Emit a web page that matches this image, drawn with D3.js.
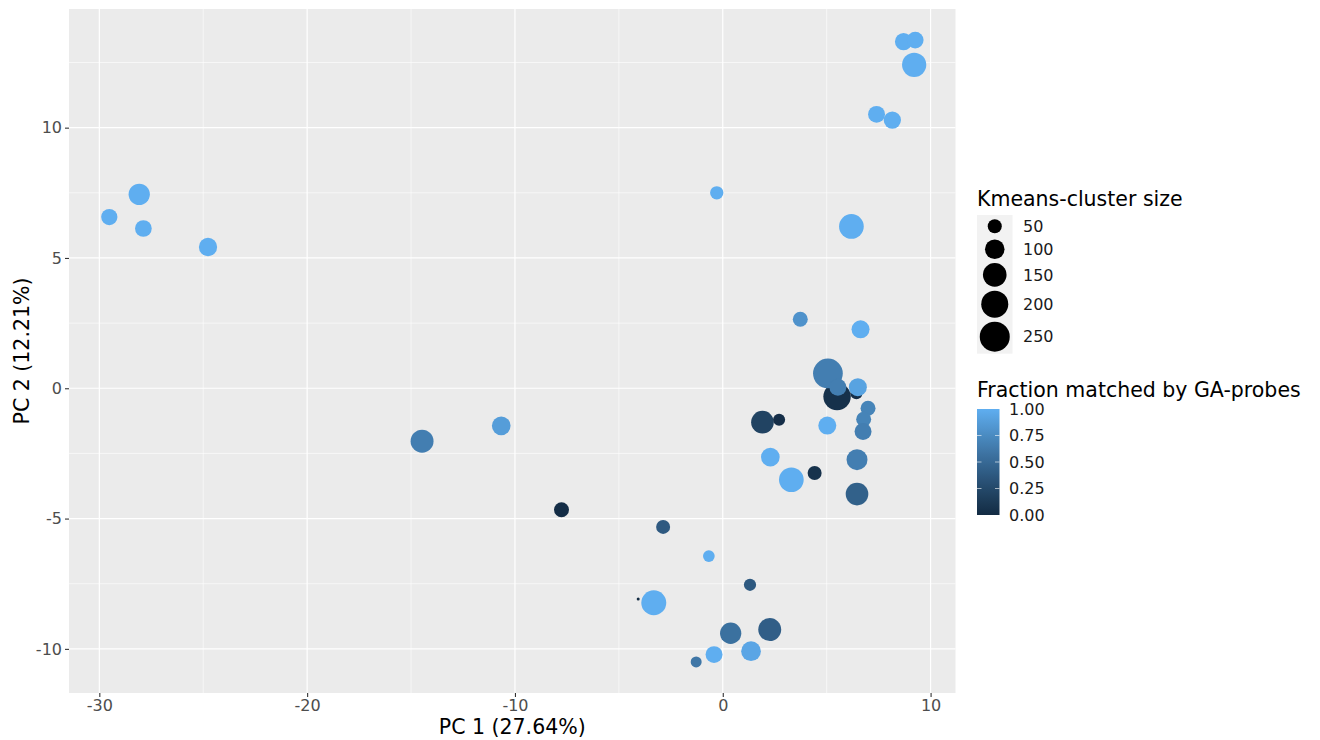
<!DOCTYPE html>
<html lang="en">
<head>
<meta charset="utf-8">
<title>PCA of k-means clusters</title>
<script src="https://cdn.jsdelivr.net/npm/d3@7"></script>
<style>
  body { margin: 0; background: #fff; }
  text { font-family: "DejaVu Sans", sans-serif; }
</style>
</head>
<body>
<script>
// one entry per k-means cluster, in draw order
var pc1 = [-29.52, -28.08, -27.88, -24.77, -14.47, -10.66, -7.76, -2.87, -4.07, -3.32,
           -0.67, 1.31, 0.38, 2.26, -0.42, 1.36, -1.28, -0.29, 3.73, 6.19,
           6.63, 5.50, 5.06, 5.54, 6.43, 6.50, 6.99, 6.78, 6.75, 5.03,
           1.91, 2.71, 2.29, 3.30, 4.42, 6.46, 6.46, 8.70, 9.26, 9.21,
           7.40, 8.16];
var pc2 = [6.57, 7.44, 6.13, 5.42, -2.03, -1.44, -4.66, -5.32, -8.09, -8.23,
           -6.44, -7.54, -9.40, -9.26, -10.22, -10.09, -10.50, 7.50, 2.65, 6.21,
           2.26, -0.32, 0.57, 0.04, -0.19, 0.04, -0.77, -1.19, -1.66, -1.43,
           -1.30, -1.21, -2.64, -3.51, -3.25, -2.74, -4.06, 13.30, 13.36, 12.41,
           10.51, 10.29];
var clusterSize = [68, 120, 72, 87, 141, 91, 57, 50, 10, 169,
                   35, 38, 120, 141, 74, 102, 31, 45, 57, 165,
                   84, 207, 245, 74, 37, 84, 57, 57, 74, 84,
                   137, 37, 91, 165, 50, 116, 137, 77, 72, 159,
                   74, 77];
var fracMatched = [1.0, 1.0, 1.0, 1.0, 0.66, 0.88, 0.02, 0.38, 0.0, 1.0,
                   1.0, 0.38, 0.56, 0.42, 1.0, 0.94, 0.6, 1.0, 0.8, 1.0,
                   1.0, 0.05, 0.66, 0.66, 0.03, 0.92, 0.7, 0.7, 0.66, 1.0,
                   0.2, 0.03, 1.0, 1.0, 0.06, 0.66, 0.44, 1.0, 1.0, 1.0,
                   1.0, 1.0];

var xTicks = [-30, -20, -10, 0, 10];
var yTicks = [-10, -5, 0, 5, 10];
var sizeBreaks = [50, 100, 150, 200, 250];
var fracBreaks = [0, 0.25, 0.5, 0.75, 1];

var W = 1320, H = 740;
var panel = {left: 69, top: 9, right: 955.5, bottom: 693};

function expand(ext) {
  var d = (ext[1] - ext[0]) * 0.05;
  return [ext[0] - d, ext[1] + d];
}

var x = d3.scaleLinear().domain(expand(d3.extent(pc1))).range([panel.left, panel.right]);
var y = d3.scaleLinear().domain(expand(d3.extent(pc2))).range([panel.bottom, panel.top]);
var sizeMin = 10;
var r = d3.scaleSqrt().domain([0, 240]).range([1.5, 15]);
var color = d3.scaleLinear().domain([0, 1]).range(["#132B43", "#5FAEF0"]).interpolate(d3.interpolateLab);

var svg = d3.select("body").append("svg")
    .attr("width", W)
    .attr("height", H);

// panel background + grid
svg.append("rect")
    .attr("x", panel.left).attr("y", panel.top)
    .attr("width", panel.right - panel.left)
    .attr("height", panel.bottom - panel.top)
    .attr("fill", "#EBEBEB");

function minors(major, dom) {
  var step = major[1] - major[0], out = [];
  for (var v = major[0] - step / 2; v <= major[major.length - 1] + step / 2; v += step) {
    if (v >= dom[0] && v <= dom[1]) out.push(v);
  }
  return out;
}

var grid = svg.append("g");
grid.selectAll(".xminor").data(minors(xTicks, x.domain())).enter().append("line")
    .attr("x1", d => x(d)).attr("x2", d => x(d))
    .attr("y1", panel.top).attr("y2", panel.bottom)
    .attr("stroke", "#fff").attr("stroke-width", 0.6);
grid.selectAll(".yminor").data(minors(yTicks, y.domain())).enter().append("line")
    .attr("y1", d => y(d)).attr("y2", d => y(d))
    .attr("x1", panel.left).attr("x2", panel.right)
    .attr("stroke", "#fff").attr("stroke-width", 0.6);
grid.selectAll(".xmajor").data(xTicks).enter().append("line")
    .attr("x1", d => x(d)).attr("x2", d => x(d))
    .attr("y1", panel.top).attr("y2", panel.bottom)
    .attr("stroke", "#fff").attr("stroke-width", 1.2);
grid.selectAll(".ymajor").data(yTicks).enter().append("line")
    .attr("y1", d => y(d)).attr("y2", d => y(d))
    .attr("x1", panel.left).attr("x2", panel.right)
    .attr("stroke", "#fff").attr("stroke-width", 1.2);

// points
svg.append("g").selectAll("circle")
    .data(pc1.map((v, i) => i))
    .enter().append("circle")
    .attr("cx", i => x(pc1[i]))
    .attr("cy", i => y(pc2[i]))
    .attr("r", i => r(clusterSize[i] - sizeMin))
    .attr("fill", i => color(fracMatched[i]));

// axes
var xAxis = svg.append("g")
    .attr("transform", "translate(0," + panel.bottom + ")")
    .call(d3.axisBottom(x).tickValues(xTicks).tickSize(4).tickPadding(3).tickFormat(d => String(d)));
var yAxis = svg.append("g")
    .attr("transform", "translate(" + panel.left + ",0)")
    .call(d3.axisLeft(y).tickValues(yTicks).tickSize(4).tickPadding(3).tickFormat(d => String(d)));

[xAxis, yAxis].forEach(function(a) {
  a.select(".domain").remove();
  a.selectAll(".tick line").attr("stroke", "#333333").attr("stroke-width", 1.1);
  a.selectAll(".tick text")
      .attr("fill", "#4D4D4D")
      .style("font-size", "16px")
      .style("font-family", "'DejaVu Sans', sans-serif");
});

svg.append("text")
    .attr("x", (panel.left + panel.right) / 2)
    .attr("y", 734)
    .attr("text-anchor", "middle")
    .style("font-size", "20.5px")
    .text("PC 1 (27.64%)");

svg.append("text")
    .attr("transform", "translate(29," + (panel.top + panel.bottom) / 2 + ") rotate(-90)")
    .attr("text-anchor", "middle")
    .style("font-size", "20.5px")
    .text("PC 2 (12.21%)");

// size legend
var lx = 977;
svg.append("text")
    .attr("x", lx).attr("y", 206)
    .style("font-size", "20.5px")
    .text("Kmeans-cluster size");

var keyTop = 215, keyW = 35.5;
var keys = [], yy = keyTop;
sizeBreaks.forEach(function(b) {
  var rad = r(b - sizeMin);
  var h = Math.max(22.5, 2 * rad + 4);
  keys.push({v: b, rad: rad, cy: yy + h / 2});
  yy += h;
});

var sl = svg.append("g");
sl.append("rect")
    .attr("x", lx).attr("y", keyTop)
    .attr("width", keyW).attr("height", yy - keyTop)
    .attr("fill", "#F2F2F2");
sl.selectAll("circle").data(keys).enter().append("circle")
    .attr("cx", lx + keyW / 2)
    .attr("cy", d => d.cy)
    .attr("r", d => d.rad)
    .attr("fill", "#000");
sl.selectAll("text").data(keys).enter().append("text")
    .attr("x", 1023)
    .attr("y", d => d.cy)
    .attr("dy", "0.36em")
    .attr("fill", "#1A1A1A")
    .style("font-size", "16px")
    .text(d => d.v);

// colour bar legend
svg.append("text")
    .attr("x", lx).attr("y", 397)
    .style("font-size", "20.5px")
    .text("Fraction matched by GA-probes");

var barTop = 409, barBot = 515, barW = 22.5;
var cb = d3.scaleLinear().domain([0, 1]).range([barBot, barTop]);

var defs = svg.append("defs");
var grad = defs.append("linearGradient")
    .attr("id", "fracGrad")
    .attr("x1", 0).attr("y1", 1).attr("x2", 0).attr("y2", 0);
d3.range(0, 1.0001, 0.05).forEach(function(t) {
  grad.append("stop").attr("offset", t).attr("stop-color", color(t));
});

var cl = svg.append("g");
cl.append("rect")
    .attr("x", lx).attr("y", barTop)
    .attr("width", barW).attr("height", barBot - barTop)
    .attr("fill", "url(#fracGrad)");
cl.selectAll(".tl").data(fracBreaks.slice(1, 4)).enter().append("line")
    .attr("x1", lx).attr("x2", lx + barW / 5)
    .attr("y1", d => cb(d)).attr("y2", d => cb(d))
    .attr("stroke", "#fff").attr("stroke-opacity", 0.6);
cl.selectAll(".tr").data(fracBreaks.slice(1, 4)).enter().append("line")
    .attr("x1", lx + barW * 4 / 5).attr("x2", lx + barW)
    .attr("y1", d => cb(d)).attr("y2", d => cb(d))
    .attr("stroke", "#fff").attr("stroke-opacity", 0.6);
cl.selectAll("text").data(fracBreaks).enter().append("text")
    .attr("x", 1009)
    .attr("y", d => cb(d))
    .attr("dy", "0.36em")
    .attr("fill", "#1A1A1A")
    .style("font-size", "16px")
    .text(d => d.toFixed(2));
</script>
</body>
</html>
